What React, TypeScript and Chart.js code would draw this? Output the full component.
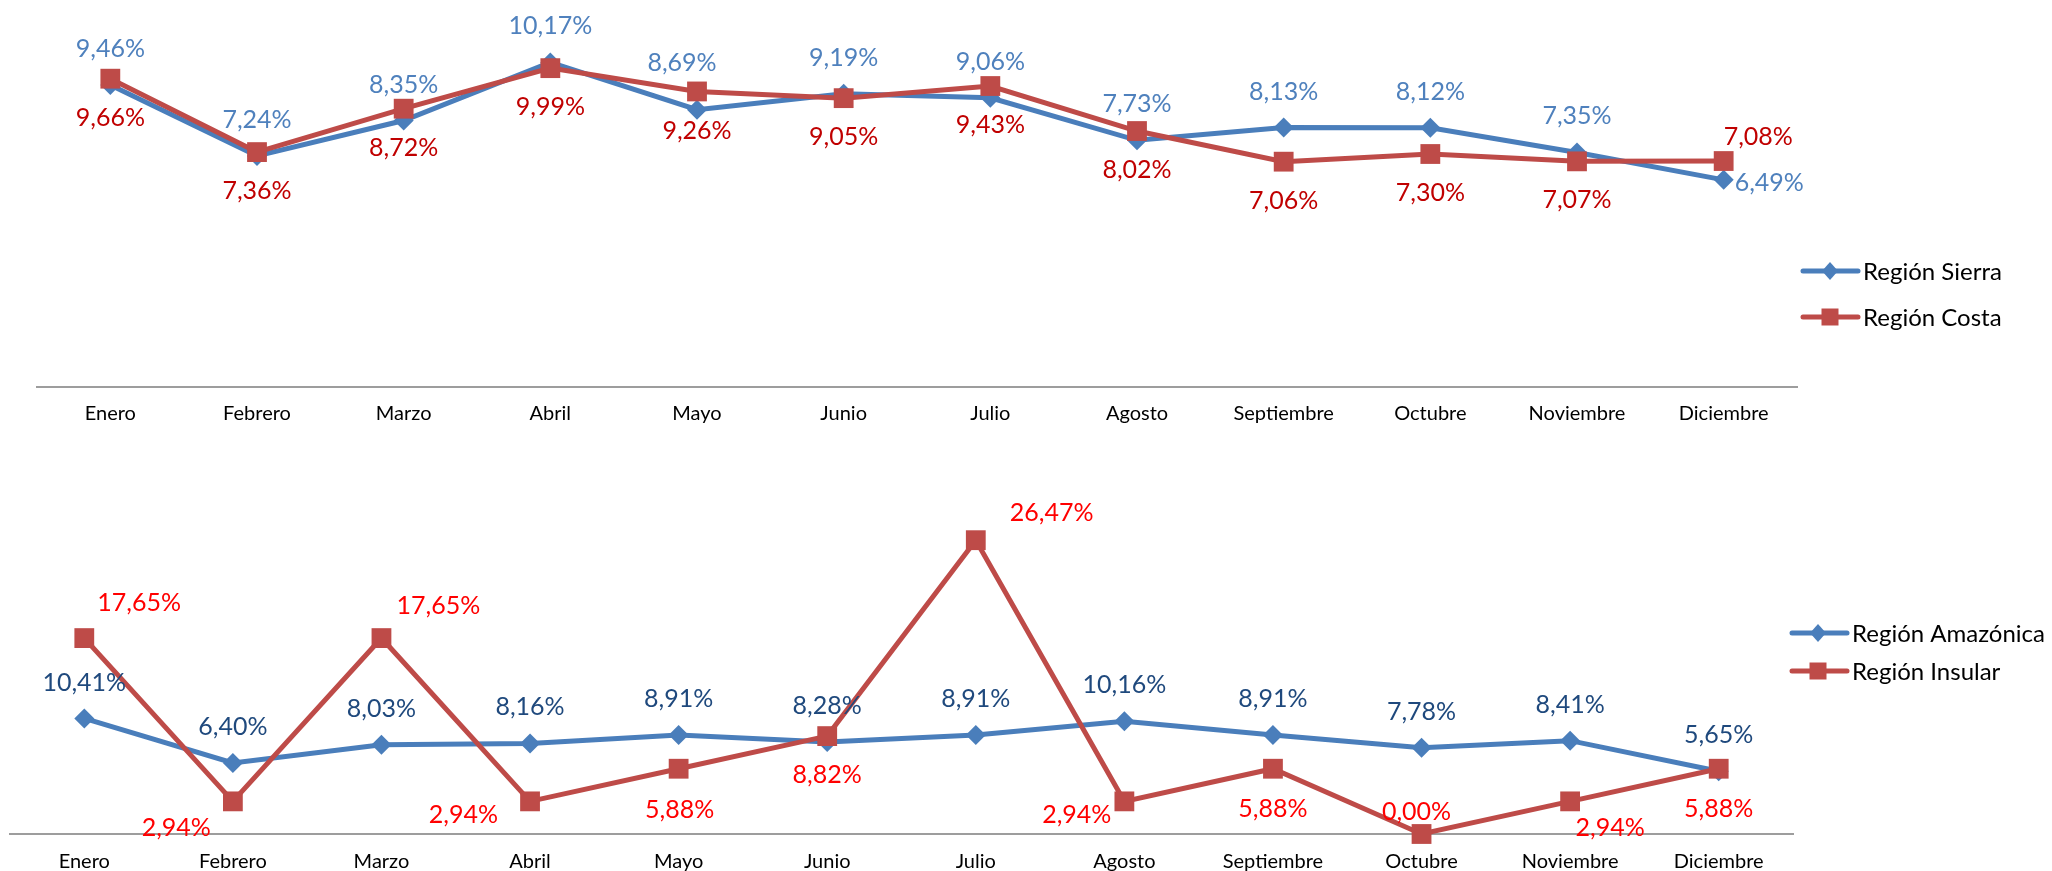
import React, { useEffect, useRef } from 'react';
import { Chart, registerables } from 'chart.js';

Chart.register(...registerables);

// ---------- data ----------
const months = ['Enero', 'Febrero', 'Marzo', 'Abril', 'Mayo', 'Junio', 'Julio', 'Agosto', 'Septiembre', 'Octubre', 'Noviembre', 'Diciembre'];
const sierra = [9.46, 7.24, 8.35, 10.17, 8.69, 9.19, 9.06, 7.73, 8.13, 8.12, 7.35, 6.49];
const costa = [9.66, 7.36, 8.72, 9.99, 9.26, 9.05, 9.43, 8.02, 7.06, 7.30, 7.07, 7.08];
const amazonica = [10.41, 6.40, 8.03, 8.16, 8.91, 8.28, 8.91, 10.16, 8.91, 7.78, 8.41, 5.65];
const insular = [17.65, 2.94, 17.65, 2.94, 5.88, 8.82, 26.47, 2.94, 5.88, 0.00, 2.94, 5.88];

// ---------- label placement (align, dx, dy from the point) ----------
type Place = [CanvasTextAlign, number, number];
const UP: Place = ['center', 0, -36];
const DN: Place = ['center', 0, 39];
const sierraPos: Place[] = [UP, UP, UP, UP, ['center', -15, -47], UP, UP, UP, UP, UP, UP, ['left', 11, 3]];
const costaPos: Place[] = [DN, DN, DN, DN, DN, DN, DN, DN, DN, DN, DN, ['left', 0, -24]];
const amazonicaPos: Place[] = [UP, UP, UP, UP, UP, UP, UP, UP, UP, UP, UP, UP];
const insularPos: Place[] = [
  ['left', 13, -35], ['right', -22, 27], ['left', 15, -32], ['right', -32, 14],
  ['center', 1, 41], ['center', 0, 39], ['left', 34, -27], ['right', -13, 14],
  ['center', 0, 40], ['center', -5, -22], ['center', 40, 27], ['center', 0, 40],
];

const BLUE = '#4A7EBB';
const RED = '#BE4B48';
const FONT = 'Lato, "Open Sans", sans-serif';

const fmt = (v: number) => v.toFixed(2).replace('.', ',') + '%';

interface SeriesDef {
  label: string;
  data: number[];
  color: string;
  labelColor: string;
  pos: Place[];
  style: 'rectRot' | 'rect';
  radius: number;
  order: number;
}

interface ChartDef {
  top: number;
  height: number;
  padLeft: number;
  padRight: number;
  padTop: number;
  axisH: number;
  tickPad: number;
  yMax: number;
  series: SeriesDef[];
  legend: { x1: number; x2: number; mx: number; tx: number; ys: number[] };
}

function LineChart({ def }: { def: ChartDef }) {
  const ref = useRef<HTMLCanvasElement | null>(null);
  useEffect(() => {
    const canvas = ref.current;
    if (!canvas) return;

    const labelPlugin = {
      id: 'valueLabels',
      afterDatasetsDraw(chart: any) {
        const ctx = chart.ctx as CanvasRenderingContext2D;
        def.series.forEach((s, di) => {
          const meta = chart.getDatasetMeta(di);
          meta.data.forEach((pt: any, i: number) => {
            const [align, dx, dy] = s.pos[i];
            ctx.save();
            ctx.font = `25px ${FONT}`;
            ctx.fillStyle = s.labelColor;
            ctx.textAlign = align;
            ctx.textBaseline = 'middle';
            ctx.fillText(fmt(s.data[i]), pt.x + dx, pt.y + dy);
            ctx.restore();
          });
        });
      },
    };

    const legendPlugin = {
      id: 'sideLegend',
      afterDraw(chart: any) {
        const ctx = chart.ctx as CanvasRenderingContext2D;
        const L = def.legend;
        def.series.forEach((s, i) => {
          const y = L.ys[i];
          ctx.save();
          ctx.strokeStyle = s.color;
          ctx.lineWidth = 5;
          ctx.lineCap = 'round';
          ctx.beginPath();
          ctx.moveTo(L.x1, y);
          ctx.lineTo(L.x2, y);
          ctx.stroke();
          ctx.fillStyle = s.color;
          ctx.beginPath();
          if (s.style === 'rectRot') {
            ctx.moveTo(L.mx - 8, y);
            ctx.lineTo(L.mx, y - 9);
            ctx.lineTo(L.mx + 8, y);
            ctx.lineTo(L.mx, y + 9);
            ctx.closePath();
          } else {
            ctx.rect(L.mx - 8.5, y - 8.5, 17, 17);
          }
          ctx.fill();
          ctx.font = `24px ${FONT}`;
          ctx.fillStyle = '#000';
          ctx.textAlign = 'left';
          ctx.textBaseline = 'middle';
          ctx.fillText(s.label, L.tx, y + 1);
          ctx.restore();
        });
      },
    };

    const chart = new Chart(canvas, {
      type: 'line',
      data: {
        labels: months,
        datasets: def.series.map((s) => ({
          label: s.label,
          data: s.data,
          borderColor: s.color,
          backgroundColor: s.color,
          borderWidth: 5,
          pointStyle: s.style,
          pointRadius: s.radius,
          pointBorderWidth: 0,
          pointBackgroundColor: s.color,
          tension: 0,
          order: s.order,
          clip: false as any,
        })),
      },
      options: {
        animation: false,
        responsive: false,
        devicePixelRatio: 1,
        layout: { autoPadding: false, padding: { left: def.padLeft, right: def.padRight, top: def.padTop, bottom: 0 } },
        plugins: { legend: { display: false }, tooltip: { enabled: false } },
        scales: {
          x: {
            offset: true,
            grid: { display: false, drawTicks: false },
            border: { display: true, color: '#9D9D9D', width: 2 },
            ticks: { color: '#000', font: { family: FONT, size: 20 }, padding: def.tickPad, maxRotation: 0, autoSkip: false },
            afterFit: (scale: any) => {
              scale.height = def.axisH;
            },
          },
          y: { display: false, min: 0, max: def.yMax },
        },
      },
      plugins: [labelPlugin, legendPlugin],
    });
    return () => chart.destroy();
  }, [def]);

  return (
    <canvas
      ref={ref}
      width={2052}
      height={def.height}
      style={{ position: 'absolute', left: 0, top: def.top, width: 2052, height: def.height }}
    />
  );
}

const topChart: ChartDef = {
  top: 0,
  height: 430,
  padLeft: 37,
  padRight: 255,
  padTop: 4,
  axisH: 43,
  tickPad: 15,
  yMax: 12,
  series: [
    { label: 'Región Sierra', data: sierra, color: BLUE, labelColor: '#4F81BD', pos: sierraPos, style: 'rectRot', radius: 10, order: 1 },
    { label: 'Región Costa', data: costa, color: RED, labelColor: '#C00000', pos: costaPos, style: 'rect', radius: 14, order: 0 },
  ],
  legend: { x1: 1803, x2: 1858, mx: 1830, tx: 1863, ys: [271, 317] },
};

const bottomChart: ChartDef = {
  top: 430,
  height: 441,
  padLeft: 10,
  padRight: 259,
  padTop: 71,
  axisH: 37,
  tickPad: 16,
  yMax: 30,
  series: [
    { label: 'Región Amazónica', data: amazonica, color: BLUE, labelColor: '#1F497D', pos: amazonicaPos, style: 'rectRot', radius: 10, order: 1 },
    { label: 'Región Insular', data: insular, color: RED, labelColor: '#FF0000', pos: insularPos, style: 'rect', radius: 14, order: 0 },
  ],
  legend: { x1: 1792, x2: 1847, mx: 1818, tx: 1852, ys: [203, 241] },
};

export default function App() {
  return (
    <div style={{ position: 'absolute', left: 0, top: 0, width: 2052, height: 871, background: '#fff', overflow: 'hidden' }}>
      <LineChart def={topChart} />
      <LineChart def={bottomChart} />
    </div>
  );
}
